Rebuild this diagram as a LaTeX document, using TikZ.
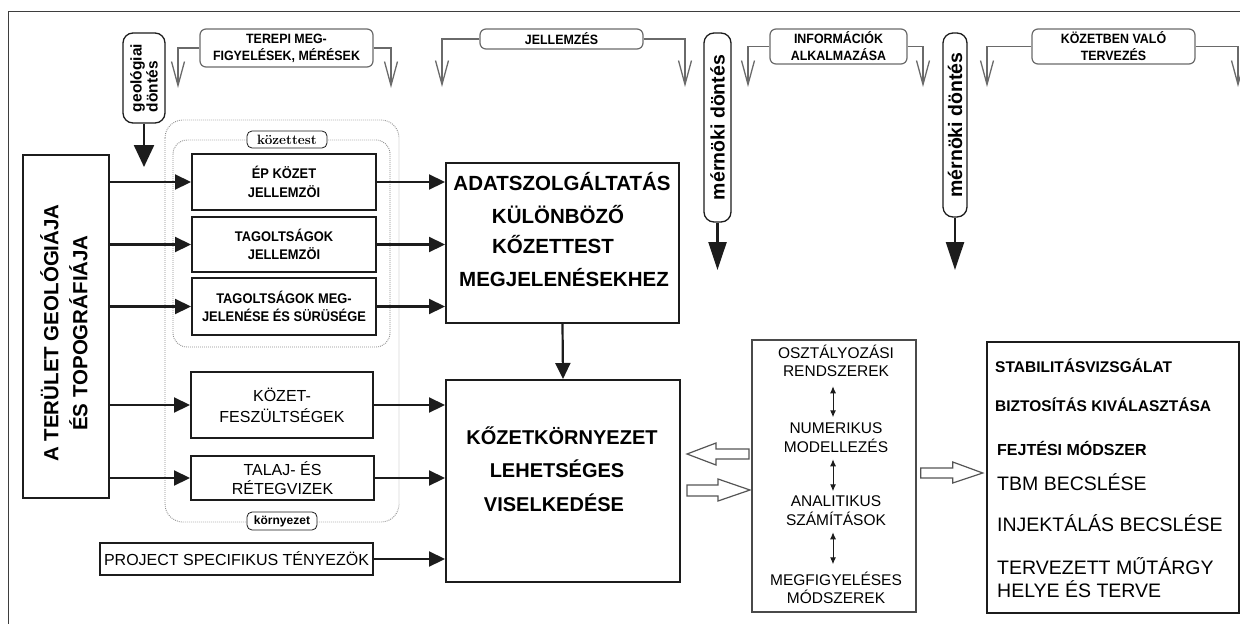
\documentclass[tikz,border=0pt]{standalone}
\usepackage{fontspec}
\newfontfamily\ar{Liberation Sans}
\newfontfamily\arn{Liberation Sans}[FakeStretch=0.92]
\usetikzlibrary{arrows.meta,calc}
\definecolor{ink}{HTML}{1C1C1C}
\definecolor{grayline}{HTML}{6A6A6A}
\definecolor{dotgray}{HTML}{8C8C8C}
\newcommand\fsz[2]{\fontsize{#1}{#2}\selectfont}
\begin{document}
\begin{tikzpicture}[x=1pt,y=-1pt,
 box/.style={draw=ink,line width=2pt,inner sep=0pt,align=center},
 nbold/.style={font=\arn\bfseries\fsz{14}{18.5}},
 conn/.style={draw=ink,line width=2.2pt,-{Triangle[length=16pt,width=15pt]}},
 bann/.style={draw=grayline,line width=1.3pt,-{Straight Barb[length=24pt,width=13pt]}},
 banbox/.style={draw=grayline,line width=1.2pt,rounded corners=6pt,fill=white,inner sep=0pt,align=center,font=\arn\bfseries\fsz{13.5}{17}},
 dec/.style={draw=ink,line width=1.3pt,rounded corners=10pt,fill=white,inner sep=0pt,rotate=90},
 bigarr/.style={draw=ink,line width=2.4pt,-{Triangle[length=28pt,width=18pt]}},
 dotbox/.style={draw=dotgray,line width=0.9pt,dash pattern=on 0.9pt off 1.1pt,rounded corners=18pt},
 hollow/.style={draw=grayline!80!black,line width=1.2pt,fill=white,line join=miter},
 dbl/.style={draw=ink,line width=1pt,{Latex[length=7pt,width=6pt]}-{Latex[length=7pt,width=6pt]}},
 bigt/.style={font=\ar\bfseries\fsz{20.5}{24},inner sep=0pt,anchor=base},
 mt/.style={font=\ar\fsz{15.5}{18},inner sep=0pt,anchor=base},
 rb/.style={font=\ar\bfseries\fsz{15.5}{18},inner sep=0pt,anchor=base west},
 rr/.style={font=\ar\fsz{19.5}{22},inner sep=0pt,anchor=base west}
]
\useasboundingbox (0,0) rectangle (1240,624);
\draw[draw=ink!85,line width=1pt] (8,624) -- (8,11) -- (1240,11);

% dotted groups
\draw[dotbox] (165,120) rectangle (399,522);
\draw[dotbox,rounded corners=14pt] (173,140) rectangle (390,347);
\node[draw=ink,line width=0.8pt,rounded corners=5pt,fill=white,minimum width=80pt,minimum height=17pt,inner sep=0pt,font=\bfseries\fsz{13.5}{14}] (kt) at (287,139.5) {közettest};
\node[draw=ink,line width=0.8pt,rounded corners=5pt,fill=white,minimum width=70pt,minimum height=18pt,inner sep=0pt,font=\ar\bfseries\fsz{12}{13}] (kz) at (282,521) {környezet};

% top banners
\node[banbox,minimum width=173pt,minimum height=38pt] (t1) at (286.5,48) {TEREPI MEG-\\FIGYELÉSEK, MÉRÉSEK};
\node[banbox,minimum width=163pt,minimum height=20pt] (t2) at (561.5,39) {JELLEMZÉS};
\node[banbox,minimum width=137pt,minimum height=35pt] (t3) at (838.5,46.5) {INFORMÁCIÓK\\ALKALMAZÁSA};
\node[banbox,minimum width=163pt,minimum height=35pt] (t4) at (1113.5,46.5) {KÖZETBEN VALÓ\\TERVEZÉS};
\coordinate (t1l) at (178,88);
\coordinate (t1r) at (391,88);
\coordinate (t2l) at (442,87);
\coordinate (t2r) at (685,87);
\coordinate (t3l) at (748,87);
\coordinate (t3r) at (923,87);
\coordinate (t4l) at (987,87);
\coordinate (t4r) at (1238,87);
\draw[bann] (t1.west) -| (t1l);
\draw[bann] (t1.east) -| (t1r);
\draw[bann] (t2.west) -| (t2l);
\draw[bann] (t2.east) -| (t2r);
\draw[bann] (t3.west) -| (t3l);
\draw[bann] (t3.east) -| (t3r);
\draw[bann] (t4.west) -| (t4l);
\draw[bann] (t4.east) -| (t4r);

% decisions
\node[dec,minimum width=90pt,minimum height=42pt,align=left,font=\ar\bfseries\fsz{15.5}{16}] (gd) at (144,78) {geológiai\\döntés};
\coordinate (gde) at (144,167);
\draw[bigarr,-{Triangle[length=22pt,width=20pt]}] (gd.west) -- (gde);
\node[dec,minimum width=189pt,minimum height=27pt,font=\ar\bfseries\fsz{19.5}{20}] (md1) at (717.5,127.5) {mérnöki döntés};
\coordinate (md1e) at (717.5,270);
\draw[bigarr] (md1.west) -- (md1e);
\node[dec,minimum width=184pt,minimum height=24pt,font=\ar\bfseries\fsz{19.5}{20}] (md2) at (955,125) {mérnöki döntés};
\coordinate (md2e) at (955,270);
\draw[bigarr] (md2.west) -- (md2e);

% left big box
\node[box,minimum width=86pt,minimum height=343pt] (geo) at (66,326.5) {};
\node[rotate=90,align=center,font=\ar\bfseries\fsz{20.5}{29},inner sep=0pt] (geotxt) at (64,333) {A TERÜLET GEOLÓGIÁJA\\ÉS TOPOGRÁFIÁJA};

% small boxes
\node[box,nbold,minimum width=184pt,minimum height=56pt] (ep) at (284,182) {ÉP KÖZET\\JELLEMZÖI};
\node[box,nbold,minimum width=184pt,minimum height=55pt] (tj) at (284,244.5) {TAGOLTSÁGOK\\JELLEMZÖI};
\node[box,nbold,minimum width=184pt,minimum height=57pt] (tm) at (284,306.5) {TAGOLTSÁGOK MEG-\\JELENÉSE ÉS SÜRÜSÉGE};
\node[box,font=\ar\fsz{16}{21},minimum width=182pt,minimum height=66pt] (kf) at (282,405) {KÖZET-\\FESZÜLTSÉGEK};
\node[box,font=\ar\fsz{16}{19},minimum width=183pt,minimum height=44pt] (tr) at (282.5,478) {TALAJ- ÉS\\RÉTEGVIZEK};
\node[box,font=\ar\fsz{16}{19},line width=1.8pt,minimum width=273pt,minimum height=32pt] (proj) at (236.5,559) {PROJECT SPECIFIKUS TÉNYEZÖK};

% big boxes
\node[box,minimum width=233pt,minimum height=160pt] (adat) at (562.5,243) {};
\node[bigt] (a1) at (562,190) {ADATSZOLGÁLTATÁS};
\node[bigt] (a2) at (558,223) {KÜLÖNBÖZŐ};
\node[bigt] (a3) at (553,253) {KŐZETTEST};
\node[bigt] (a4) at (564,286) {MEGJELENÉSEKHEZ};
\node[box,minimum width=234pt,minimum height=202pt] (kk) at (563,481) {};
\node[bigt,font=\ar\bfseries\fsz{20}{24}] (k1) at (562,444) {KŐZETKÖRNYEZET};
\node[bigt,font=\ar\bfseries\fsz{20}{24}] (k2) at (557,477) {LEHETSÉGES};
\node[bigt,font=\ar\bfseries\fsz{20}{24}] (k3) at (554,511) {VISELKEDÉSE};

% connectors
\draw[conn] (geo.east |- ep.west) -- (ep.west);
\draw[conn] (geo.east |- tj.west) -- (tj.west);
\draw[conn] (geo.east |- tm.west) -- (tm.west);
\draw[conn] (geo.east |- kf.west) -- (kf.west);
\draw[conn] (geo.east |- tr.west) -- (tr.west);
\draw[conn] (ep.east) -- (adat.west |- ep.east);
\draw[conn] (tj.east) -- (adat.west |- tj.east);
\draw[conn] (tm.east) -- (adat.west |- tm.east);
\draw[conn] (kf.east) -- (kk.west |- kf.east);
\draw[conn] (tr.east) -- (kk.west |- tr.east);
\draw[conn] (proj.east) -- (kk.west |- proj.east);
\draw[conn] (adat.south) -- (kk.north);

% middle box
\node[draw=grayline!70!black,line width=1.5pt,minimum width=164pt,minimum height=272pt,inner sep=0pt] (mid) at (834,476) {};
\node[mt] (m1a) at (836,358) {OSZTÁLYOZÁSI};
\node[mt] (m1b) at (836,376) {RENDSZEREK};
\node[mt] (m2a) at (836,433) {NUMERIKUS};
\node[mt] (m2b) at (836,452) {MODELLEZÉS};
\node[mt] (m3a) at (836,506) {ANALITIKUS};
\node[mt] (m3b) at (836,525) {SZÁMÍTÁSOK};
\node[mt] (m4a) at (836,585) {MEGFIGYELÉSES};
\node[mt] (m4b) at (836,603) {MÓDSZEREK};
\draw[dbl] ($(mid.north)+(-1,47)$) -- ($(mid.north)+(-1,78)$);
\draw[dbl] ($(mid.north)+(-1,120)$) -- ($(mid.north)+(-1,152)$);
\draw[dbl] ($(mid.north)+(-1,193)$) -- ($(mid.north)+(-1,225)$);

% right box
\node[box,minimum width=252pt,minimum height=271pt] (res) at (1113,477.5) {};
\node[rb] (r1) at (995,372.5) {STABILITÁSVIZSGÁLAT};
\node[rb] (r2) at (995,411) {BIZTOSÍTÁS KIVÁLASZTÁSA};
\node[rb,font=\ar\bfseries\fsz{16}{18}] (r3) at (997,455) {FEJTÉSI MÓDSZER};
\node[rr] (r4) at (997,490) {TBM BECSLÉSE};
\node[rr] (r5) at (997,531) {INJEKTÁLÁS BECSLÉSE};
\node[rr] (r6) at (997,574) {TERVEZETT MŰTÁRGY};
\node[rr] (r7) at (997,597) {HELYE ÉS TERVE};

% hollow block arrows
\draw[hollow,shift={(kk.east)}] (6,-27) -- (35,-38) -- (35,-32) -- (68,-32) -- (68,-22) -- (35,-22) -- (35,-16) -- cycle;
\draw[hollow,shift={(kk.east)}] (6,4) -- (37,4) -- (37,-2) -- (69,9) -- (37,20) -- (37,15) -- (6,15) -- cycle;
\draw[hollow,shift={(mid.east)}] (4,-8) -- (36,-8) -- (36,-14) -- (66,-3) -- (36,7) -- (36,2) -- (4,2) -- cycle;
\end{tikzpicture}
\end{document}
